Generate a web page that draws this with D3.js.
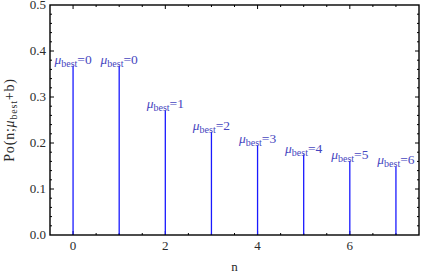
<!DOCTYPE html>
<html>
<head>
<meta charset="utf-8">
<script src="https://cdn.jsdelivr.net/npm/d3@7"></script>
<style>
  body { margin: 0; background: #fff; }
  text { font-family: "Liberation Serif", "DejaVu Serif", serif; }
</style>
</head>
<body>
<svg id="chart"></svg>
<script>
'use strict';

// data
var nValues = [0, 1, 2, 3, 4, 5, 6, 7];
var probValues = [0.368, 0.368, 0.271, 0.224, 0.195, 0.175, 0.161, 0.149];
var muBest = [0, 0, 1, 2, 3, 4, 5, 6];
var xTickLabels = [0, 2, 4, 6];
var yTickLabels = [0.0, 0.1, 0.2, 0.3, 0.4, 0.5];

const WIDTH = 421;
const HEIGHT = 279;
var margin = {top: 5, right: 2, bottom: 44, left: 50};

var svg = d3.select("#chart")
    .attr("width", WIDTH)
    .attr("height", HEIGHT);

var x = d3.scaleLinear()
    .domain([-0.5, 7.5])
    .range([margin.left, WIDTH - margin.right]);

var y = d3.scaleLinear()
    .domain([0, 0.5])
    .range([HEIGHT - margin.bottom, margin.top]);

var frameColor = "#000";
var textColor = "#2a2a2a";

// minor / major ticks, all sides, pointing inward
var xTicks = d3.range(-0.5, 7.51, 0.5).filter(function (d) { return d > -0.5 && d < 7.5; });
var yTicks = d3.range(0, 0.501, 0.02).filter(function (d) { return d > 0.001 && d < 0.499; });

function isMajorX(d) { return xTickLabels.indexOf(d) >= 0; }
function isMajorY(d) { return Math.abs(d * 10 - Math.round(d * 10)) < 1e-6; }

var ticks = svg.append("g").attr("stroke", frameColor).attr("stroke-width", 1);

xTicks.forEach(function (d) {
    var len = isMajorX(d) ? 4 : 2;
    ticks.append("line")
        .attr("x1", x(d)).attr("x2", x(d))
        .attr("y1", y(0)).attr("y2", y(0) - len);
    ticks.append("line")
        .attr("x1", x(d)).attr("x2", x(d))
        .attr("y1", y(0.5)).attr("y2", y(0.5) + len);
});

yTicks.forEach(function (d) {
    var len = isMajorY(d) ? 4 : 2;
    ticks.append("line")
        .attr("x1", x(-0.5)).attr("x2", x(-0.5) + len)
        .attr("y1", y(d)).attr("y2", y(d));
    ticks.append("line")
        .attr("x1", x(7.5)).attr("x2", x(7.5) - len)
        .attr("y1", y(d)).attr("y2", y(d));
});

// stems
svg.selectAll(".stem")
    .data(nValues)
    .enter()
    .append("line")
    .attr("class", "stem")
    .attr("x1", function (d) { return x(d); })
    .attr("x2", function (d) { return x(d); })
    .attr("y1", y(0))
    .attr("y2", function (d, i) { return y(probValues[i]); })
    .attr("stroke", "#1a1aff")
    .attr("stroke-width", 1.3);

// labels above stems
var labels = svg.selectAll(".lab")
    .data(nValues)
    .enter()
    .append("text")
    .attr("class", "lab")
    .attr("x", function (d) { return x(d); })
    .attr("y", function (d, i) { return y(probValues[i]) - 2; })
    .attr("text-anchor", "middle")
    .attr("fill", "#4646c0")
    .attr("font-size", 13.5);

labels.append("tspan").attr("font-style", "italic").text("\u03bc");
labels.append("tspan").attr("font-size", 10).attr("dy", 3).text("best");
labels.append("tspan").attr("dy", -3).text(function (d, i) { return "=" + muBest[i]; });

// frame
svg.append("rect")
    .attr("x", x(-0.5))
    .attr("y", y(0.5))
    .attr("width", x(7.5) - x(-0.5))
    .attr("height", y(0) - y(0.5))
    .attr("fill", "none")
    .attr("stroke", frameColor)
    .attr("stroke-width", 1.4);

// tick labels
svg.selectAll(".xl")
    .data(xTickLabels)
    .enter()
    .append("text")
    .attr("x", function (d) { return x(d); })
    .attr("y", y(0) + 15)
    .attr("text-anchor", "middle")
    .attr("font-size", 13)
    .attr("fill", textColor)
    .text(function (d) { return d; });

svg.selectAll(".yl")
    .data(yTickLabels)
    .enter()
    .append("text")
    .attr("x", x(-0.5) - 4)
    .attr("y", function (d) { return y(d) + 4; })
    .attr("text-anchor", "end")
    .attr("font-size", 13)
    .attr("fill", textColor)
    .text(function (d) { return d.toFixed(1); });

// axis titles
svg.append("text")
    .attr("x", (x(-0.5) + x(7.5)) / 2)
    .attr("y", 271)
    .attr("text-anchor", "middle")
    .attr("font-size", 13)
    .attr("fill", textColor)
    .text("n");

var yTitle = svg.append("text")
    .attr("transform", "translate(14," + ((y(0) + y(0.5)) / 2) + ") rotate(-90)")
    .attr("text-anchor", "middle")
    .attr("font-size", 14)
    .attr("letter-spacing", 0.8)
    .attr("fill", textColor);
yTitle.append("tspan").text("Po(n;");
yTitle.append("tspan").attr("font-style", "italic").text("\u03bc");
yTitle.append("tspan").attr("font-size", 10).attr("dy", 3).text("best");
yTitle.append("tspan").attr("dy", -3).text("+b)");
</script>
</body>
</html>
